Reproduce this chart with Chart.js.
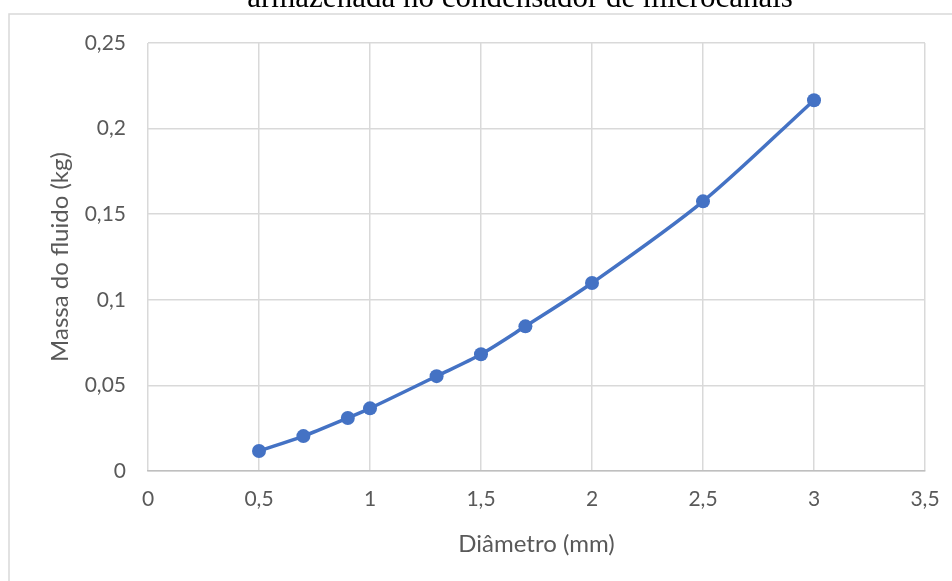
<!DOCTYPE html>
<html>
<head>
<meta charset="utf-8">
<script src="https://cdn.jsdelivr.net/npm/chart.js@4/dist/chart.umd.min.js"></script>
<style>
  html, body { margin: 0; padding: 0; background: #ffffff; }
  #wrap { position: relative; width: 952px; height: 581px; }
</style>
</head>
<body>
<div id="wrap"><canvas id="chart" width="952" height="581"></canvas></div>
<script>
// Diâmetro do canal (mm)
const diametros = [0.5, 0.7, 0.9, 1.0, 1.3, 1.5, 1.7, 2.0, 2.5, 3.0];
// Massa de fluido armazenada (kg)
const massas = [0.0117, 0.0204, 0.031, 0.0366, 0.0554, 0.0682, 0.0845, 0.1098, 0.1575, 0.2166];

const xTickLabels = ['0', '0,5', '1', '1,5', '2', '2,5', '3', '3,5'];
const yTickLabels = ['0', '0,05', '0,1', '0,15', '0,2', '0,25'];

const tituloLinha = 'armazenada no condensador de microcanais';
const tituloEixoX = 'Diâmetro (mm)';
const tituloEixoY = 'Massa do fluido (kg)';

const tickFont = { family: 'Lato, "Open Sans", sans-serif', size: 21 };
const titleFont = { family: 'Lato, "Open Sans", sans-serif', size: 24 };
const tickColor = '#595959';

// Moldura da área do gráfico e título (apenas a linha inferior aparece)
const moldura = {
  id: 'moldura',
  beforeDraw(chart) {
    const ctx = chart.ctx;
    ctx.save();
    ctx.fillStyle = '#ffffff';
    ctx.fillRect(0, 0, chart.width, chart.height);
    ctx.strokeStyle = '#d9d9d9';
    ctx.lineWidth = 1.5;
    ctx.beginPath();
    ctx.moveTo(9, chart.height + 2);
    ctx.lineTo(9, 14);
    ctx.lineTo(chart.width + 2, 14);
    ctx.stroke();
    ctx.fillStyle = '#000000';
    ctx.font = '31px "Liberation Serif", "Times New Roman", serif';
    ctx.textAlign = 'center';
    ctx.textBaseline = 'alphabetic';
    ctx.fillText(tituloLinha, 520, 7);
    ctx.restore();
  }
};

new Chart(document.getElementById('chart'), {
  type: 'line',
  data: {
    datasets: [{
      data: diametros.map((d, i) => ({ x: d, y: massas[i] })),
      borderColor: '#4472C4',
      backgroundColor: '#4472C4',
      borderWidth: 3.5,
      pointRadius: 7,
      pointHoverRadius: 7,
      pointBorderWidth: 0,
      tension: 0.3,
      fill: false
    }]
  },
  options: {
    responsive: false,
    animation: false,
    layout: { padding: { left: 0, right: 27, top: 43, bottom: 0 } },
    plugins: { legend: { display: false }, tooltip: { enabled: false } },
    scales: {
      x: {
        type: 'linear',
        min: 0, max: 3.5,
        afterBuildTicks(axis) {
          axis.ticks = xTickLabels.map((_, i) => ({ value: i * 0.5 }));
        },
        afterFit(axis) {
          axis.height = 110;
          axis.paddingLeft = 0;
          axis.paddingRight = 0;
        },
        grid: { color: '#d9d9d9', lineWidth: 1.5, drawTicks: false },
        border: { display: true, color: '#bfbfbf', width: 1.5 },
        ticks: {
          color: tickColor, font: tickFont, padding: 16, maxRotation: 0, autoSkip: false,
          callback: (v, i) => xTickLabels[i]
        },
        title: {
          display: true, text: tituloEixoX, color: tickColor,
          font: titleFont, padding: { top: 14, bottom: 22 }
        }
      },
      y: {
        type: 'linear',
        min: 0, max: 0.25,
        afterBuildTicks(axis) {
          axis.ticks = yTickLabels.map((_, i) => ({ value: i * 0.05 }));
        },
        afterFit(axis) { axis.width = 148; },
        grid: { color: '#d9d9d9', lineWidth: 1.5, drawTicks: false },
        border: { display: false },
        ticks: {
          color: tickColor, font: tickFont, padding: 22, autoSkip: false,
          callback: (v, i) => yTickLabels[i]
        },
        title: {
          display: true, text: tituloEixoY, color: tickColor,
          font: titleFont, padding: { top: 46, bottom: 0 }
        }
      }
    }
  },
  plugins: [moldura]
});
</script>
</body>
</html>
